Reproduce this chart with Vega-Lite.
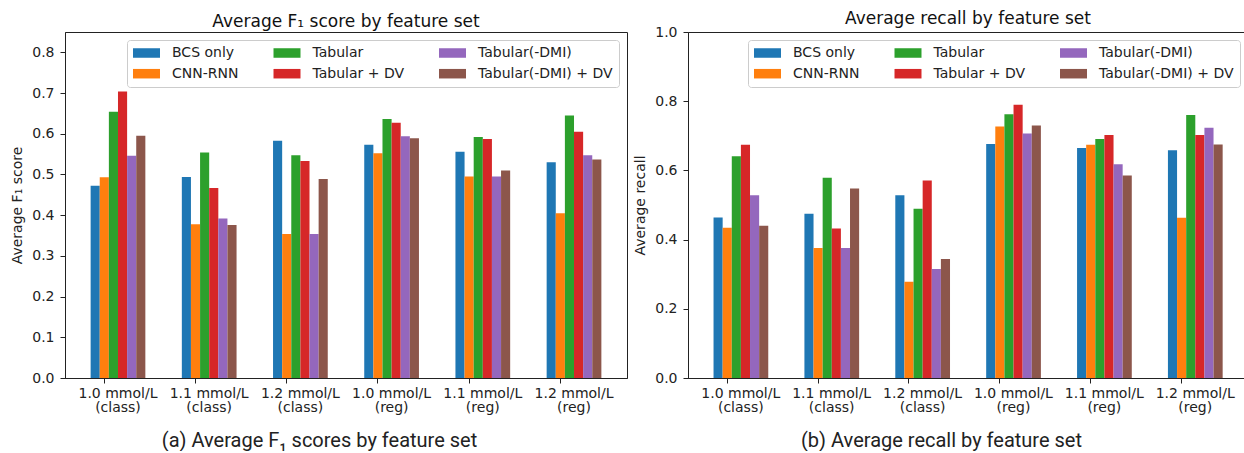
{
  "$schema": "https://vega.github.io/schema/vega-lite/v6.json",
  "background": "white",
  "padding": {"left": 10, "top": 9, "right": 0, "bottom": 0},
  "spacing": 5,
  "datasets": {
    "f1": [
      {"threshold": "1.0 mmol/L|(class)", "feature": "BCS only", "value": 0.472},
      {"threshold": "1.0 mmol/L|(class)", "feature": "CNN-RNN", "value": 0.493},
      {"threshold": "1.0 mmol/L|(class)", "feature": "Tabular", "value": 0.654},
      {"threshold": "1.0 mmol/L|(class)", "feature": "Tabular + DV", "value": 0.704},
      {"threshold": "1.0 mmol/L|(class)", "feature": "Tabular(-DMI)", "value": 0.546},
      {"threshold": "1.0 mmol/L|(class)", "feature": "Tabular(-DMI) + DV", "value": 0.595},
      {"threshold": "1.1 mmol/L|(class)", "feature": "BCS only", "value": 0.494},
      {"threshold": "1.1 mmol/L|(class)", "feature": "CNN-RNN", "value": 0.378},
      {"threshold": "1.1 mmol/L|(class)", "feature": "Tabular", "value": 0.554},
      {"threshold": "1.1 mmol/L|(class)", "feature": "Tabular + DV", "value": 0.467},
      {"threshold": "1.1 mmol/L|(class)", "feature": "Tabular(-DMI)", "value": 0.392},
      {"threshold": "1.1 mmol/L|(class)", "feature": "Tabular(-DMI) + DV", "value": 0.376},
      {"threshold": "1.2 mmol/L|(class)", "feature": "BCS only", "value": 0.583},
      {"threshold": "1.2 mmol/L|(class)", "feature": "CNN-RNN", "value": 0.354},
      {"threshold": "1.2 mmol/L|(class)", "feature": "Tabular", "value": 0.547},
      {"threshold": "1.2 mmol/L|(class)", "feature": "Tabular + DV", "value": 0.533},
      {"threshold": "1.2 mmol/L|(class)", "feature": "Tabular(-DMI)", "value": 0.354},
      {"threshold": "1.2 mmol/L|(class)", "feature": "Tabular(-DMI) + DV", "value": 0.489},
      {"threshold": "1.0 mmol/L|(reg)", "feature": "BCS only", "value": 0.573},
      {"threshold": "1.0 mmol/L|(reg)", "feature": "CNN-RNN", "value": 0.552},
      {"threshold": "1.0 mmol/L|(reg)", "feature": "Tabular", "value": 0.636},
      {"threshold": "1.0 mmol/L|(reg)", "feature": "Tabular + DV", "value": 0.627},
      {"threshold": "1.0 mmol/L|(reg)", "feature": "Tabular(-DMI)", "value": 0.594},
      {"threshold": "1.0 mmol/L|(reg)", "feature": "Tabular(-DMI) + DV", "value": 0.589},
      {"threshold": "1.1 mmol/L|(reg)", "feature": "BCS only", "value": 0.556},
      {"threshold": "1.1 mmol/L|(reg)", "feature": "CNN-RNN", "value": 0.495},
      {"threshold": "1.1 mmol/L|(reg)", "feature": "Tabular", "value": 0.592},
      {"threshold": "1.1 mmol/L|(reg)", "feature": "Tabular + DV", "value": 0.587},
      {"threshold": "1.1 mmol/L|(reg)", "feature": "Tabular(-DMI)", "value": 0.495},
      {"threshold": "1.1 mmol/L|(reg)", "feature": "Tabular(-DMI) + DV", "value": 0.510},
      {"threshold": "1.2 mmol/L|(reg)", "feature": "BCS only", "value": 0.530},
      {"threshold": "1.2 mmol/L|(reg)", "feature": "CNN-RNN", "value": 0.405},
      {"threshold": "1.2 mmol/L|(reg)", "feature": "Tabular", "value": 0.645},
      {"threshold": "1.2 mmol/L|(reg)", "feature": "Tabular + DV", "value": 0.605},
      {"threshold": "1.2 mmol/L|(reg)", "feature": "Tabular(-DMI)", "value": 0.547},
      {"threshold": "1.2 mmol/L|(reg)", "feature": "Tabular(-DMI) + DV", "value": 0.537}
    ],
    "recall": [
      {"threshold": "1.0 mmol/L|(class)", "feature": "BCS only", "value": 0.464},
      {"threshold": "1.0 mmol/L|(class)", "feature": "CNN-RNN", "value": 0.434},
      {"threshold": "1.0 mmol/L|(class)", "feature": "Tabular", "value": 0.641},
      {"threshold": "1.0 mmol/L|(class)", "feature": "Tabular + DV", "value": 0.674},
      {"threshold": "1.0 mmol/L|(class)", "feature": "Tabular(-DMI)", "value": 0.528},
      {"threshold": "1.0 mmol/L|(class)", "feature": "Tabular(-DMI) + DV", "value": 0.440},
      {"threshold": "1.1 mmol/L|(class)", "feature": "BCS only", "value": 0.475},
      {"threshold": "1.1 mmol/L|(class)", "feature": "CNN-RNN", "value": 0.376},
      {"threshold": "1.1 mmol/L|(class)", "feature": "Tabular", "value": 0.579},
      {"threshold": "1.1 mmol/L|(class)", "feature": "Tabular + DV", "value": 0.432},
      {"threshold": "1.1 mmol/L|(class)", "feature": "Tabular(-DMI)", "value": 0.376},
      {"threshold": "1.1 mmol/L|(class)", "feature": "Tabular(-DMI) + DV", "value": 0.548},
      {"threshold": "1.2 mmol/L|(class)", "feature": "BCS only", "value": 0.528},
      {"threshold": "1.2 mmol/L|(class)", "feature": "CNN-RNN", "value": 0.278},
      {"threshold": "1.2 mmol/L|(class)", "feature": "Tabular", "value": 0.489},
      {"threshold": "1.2 mmol/L|(class)", "feature": "Tabular + DV", "value": 0.571},
      {"threshold": "1.2 mmol/L|(class)", "feature": "Tabular(-DMI)", "value": 0.315},
      {"threshold": "1.2 mmol/L|(class)", "feature": "Tabular(-DMI) + DV", "value": 0.344},
      {"threshold": "1.0 mmol/L|(reg)", "feature": "BCS only", "value": 0.676},
      {"threshold": "1.0 mmol/L|(reg)", "feature": "CNN-RNN", "value": 0.727},
      {"threshold": "1.0 mmol/L|(reg)", "feature": "Tabular", "value": 0.762},
      {"threshold": "1.0 mmol/L|(reg)", "feature": "Tabular + DV", "value": 0.790},
      {"threshold": "1.0 mmol/L|(reg)", "feature": "Tabular(-DMI)", "value": 0.707},
      {"threshold": "1.0 mmol/L|(reg)", "feature": "Tabular(-DMI) + DV", "value": 0.730},
      {"threshold": "1.1 mmol/L|(reg)", "feature": "BCS only", "value": 0.665},
      {"threshold": "1.1 mmol/L|(reg)", "feature": "CNN-RNN", "value": 0.674},
      {"threshold": "1.1 mmol/L|(reg)", "feature": "Tabular", "value": 0.691},
      {"threshold": "1.1 mmol/L|(reg)", "feature": "Tabular + DV", "value": 0.702},
      {"threshold": "1.1 mmol/L|(reg)", "feature": "Tabular(-DMI)", "value": 0.618},
      {"threshold": "1.1 mmol/L|(reg)", "feature": "Tabular(-DMI) + DV", "value": 0.585},
      {"threshold": "1.2 mmol/L|(reg)", "feature": "BCS only", "value": 0.658},
      {"threshold": "1.2 mmol/L|(reg)", "feature": "CNN-RNN", "value": 0.463},
      {"threshold": "1.2 mmol/L|(reg)", "feature": "Tabular", "value": 0.760},
      {"threshold": "1.2 mmol/L|(reg)", "feature": "Tabular + DV", "value": 0.702},
      {"threshold": "1.2 mmol/L|(reg)", "feature": "Tabular(-DMI)", "value": 0.723},
      {"threshold": "1.2 mmol/L|(reg)", "feature": "Tabular(-DMI) + DV", "value": 0.675}
    ]
  },
  "config": {
    "view": {"stroke": "#222", "strokeWidth": 1},
    "axis": {
      "grid": false,
      "domainColor": "#222",
      "tickColor": "#222",
      "labelColor": "#222",
      "titleColor": "#222",
      "labelFont": "DejaVu Sans",
      "titleFont": "DejaVu Sans",
      "labelFontSize": 14,
      "titleFontSize": 14,
      "titleFontWeight": "normal",
      "tickSize": 5,
      "domainWidth": 1,
      "tickWidth": 1
    },
    "title": {"font": "DejaVu Sans", "fontSize": 17, "fontWeight": "normal", "color": "#111", "anchor": "middle", "frame": "group", "baseline": "bottom"},
    "legend": {
      "orient": "top-right",
      "offset": 8,
      "columns": 3,
      "fillColor": "rgba(255,255,255,0.85)",
      "strokeColor": "#cccccc",
      "cornerRadius": 3,
      "padding": 6,
      "symbolType": "M-1,-0.68H2.857V0.68H-1Z",
      "symbolSize": 196,
      "symbolStrokeWidth": 0,
      "symbolOpacity": 1,
      "labelFont": "DejaVu Sans",
      "labelFontSize": 14,
      "labelColor": "#222",
      "labelOffset": 25,
      "columnPadding": 34.5,
      "rowPadding": 6.7,
      "labelLimit": 300
    }
  },
  "resolve": {"scale": {"color": "independent"}, "legend": {"color": "independent"}},
  "hconcat": [
    {
      "width": 562,
      "height": 346,
      "data": {"name": "f1"},
      "title": {"text": "Average F₁ score by feature set", "offset": 1},
      "mark": {"type": "bar"},
      "encoding": {
        "x": {
          "field": "threshold", "type": "nominal",
          "scale": {"domain": ["1.0 mmol/L|(class)", "1.1 mmol/L|(class)", "1.2 mmol/L|(class)", "1.0 mmol/L|(reg)", "1.1 mmol/L|(reg)", "1.2 mmol/L|(reg)"], "paddingInner": 0.4, "paddingOuter": 0.281},
          "axis": {
            "title": "(a) Average F₁ scores by feature set",
            "titleFont": "Roboto", "titleFontSize": 20, "titleColor": "#222",
            "titleX": 254, "titleY": 62, "titleAlign": "center", "titleBaseline": "middle",
            "labelExpr": "split(datum.label, '|')",
            "labelAngle": 0, "bandPosition": 0.25, "labelPadding": 3, "labelLineHeight": 14.5, "labelBaseline": "top"
          }
        },
        "xOffset": {
          "field": "feature", "type": "nominal",
          "scale": {"domain": ["BCS only", "CNN-RNN", "Tabular", "Tabular + DV", "Tabular(-DMI)", "Tabular(-DMI) + DV"], "paddingInner": 0, "paddingOuter": 0}
        },
        "y": {
          "field": "value", "type": "quantitative",
          "scale": {"domain": [0, 0.85], "nice": false, "zero": true},
          "axis": {"title": "Average F₁ score", "values": [0, 0.1, 0.2, 0.3, 0.4, 0.5, 0.6, 0.7, 0.8], "format": ".1f", "labelPadding": 6, "titlePadding": 7}
        },
        "color": {
          "field": "feature", "type": "nominal",
          "scale": {"domain": ["BCS only", "CNN-RNN", "Tabular", "Tabular + DV", "Tabular(-DMI)", "Tabular(-DMI) + DV"], "range": ["#1f77b4", "#ff7f0e", "#2ca02c", "#d62728", "#9467bd", "#8c564b"]},
          "legend": {"title": null}
        }
      }
    },
    {
      "width": 560,
      "height": 346,
      "data": {"name": "recall"},
      "title": {"text": "Average recall by feature set", "offset": -3},
      "mark": {"type": "bar"},
      "encoding": {
        "x": {
          "field": "threshold", "type": "nominal",
          "scale": {"domain": ["1.0 mmol/L|(class)", "1.1 mmol/L|(class)", "1.2 mmol/L|(class)", "1.0 mmol/L|(reg)", "1.1 mmol/L|(reg)", "1.2 mmol/L|(reg)"], "paddingInner": 0.4, "paddingOuter": 0.281},
          "axis": {
            "title": "(b) Average recall by feature set",
            "titleFont": "Roboto", "titleFontSize": 20, "titleColor": "#222",
            "titleX": 253, "titleY": 62, "titleAlign": "center", "titleBaseline": "middle",
            "labelExpr": "split(datum.label, '|')",
            "labelAngle": 0, "bandPosition": 0.25, "labelPadding": 3, "labelLineHeight": 14.5, "labelBaseline": "top"
          }
        },
        "xOffset": {
          "field": "feature", "type": "nominal",
          "scale": {"domain": ["BCS only", "CNN-RNN", "Tabular", "Tabular + DV", "Tabular(-DMI)", "Tabular(-DMI) + DV"], "paddingInner": 0, "paddingOuter": 0}
        },
        "y": {
          "field": "value", "type": "quantitative",
          "scale": {"domain": [0, 1], "nice": false, "zero": true},
          "axis": {"title": "Average recall", "values": [0, 0.2, 0.4, 0.6, 0.8, 1.0], "format": ".1f", "labelPadding": 6, "titlePadding": 7}
        },
        "color": {
          "field": "feature", "type": "nominal",
          "scale": {"domain": ["BCS only", "CNN-RNN", "Tabular", "Tabular + DV", "Tabular(-DMI)", "Tabular(-DMI) + DV"], "range": ["#1f77b4", "#ff7f0e", "#2ca02c", "#d62728", "#9467bd", "#8c564b"]},
          "legend": {"title": null}
        }
      }
    }
  ]
}
